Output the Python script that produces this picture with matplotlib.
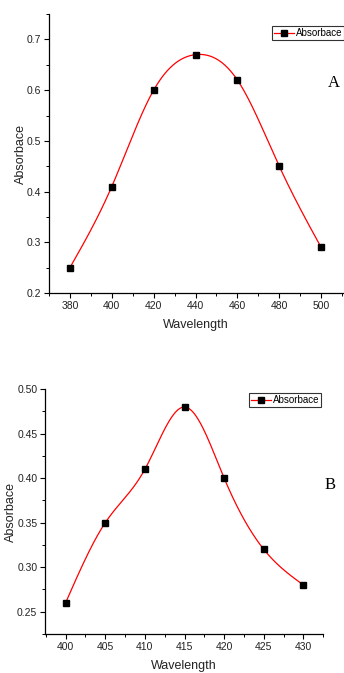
import numpy as np
import matplotlib.pyplot as plt
from matplotlib.ticker import MultipleLocator

# panel A data
wl_a = [380, 400, 420, 440, 460, 480, 500]
abs_a = [0.25, 0.41, 0.60, 0.67, 0.62, 0.45, 0.29]

# panel B data
wl_b = [400, 405, 410, 415, 420, 425, 430]
abs_b = [0.26, 0.35, 0.41, 0.48, 0.40, 0.32, 0.28]


def natural_spline(x, y, n=300):
    # natural cubic spline through the points, just for the smooth line
    x = np.asarray(x, float)
    y = np.asarray(y, float)
    k = len(x)
    h = np.diff(x)
    A = np.zeros((k, k))
    r = np.zeros(k)
    A[0, 0] = A[-1, -1] = 1
    for i in range(1, k - 1):
        A[i, i - 1] = h[i - 1]
        A[i, i] = 2 * (h[i - 1] + h[i])
        A[i, i + 1] = h[i]
        r[i] = 3 * ((y[i + 1] - y[i]) / h[i] - (y[i] - y[i - 1]) / h[i - 1])
    c = np.linalg.solve(A, r)
    xs = np.linspace(x[0], x[-1], n)
    idx = np.clip(np.searchsorted(x, xs) - 1, 0, k - 2)
    dx = xs - x[idx]
    b = (y[1:] - y[:-1]) / h - h * (2 * c[:-1] + c[1:]) / 3
    d = (c[1:] - c[:-1]) / (3 * h)
    ys = y[idx] + b[idx] * dx + c[idx] * dx ** 2 + d[idx] * dx ** 3
    return xs, ys


plt.rcParams['font.family'] = ['Liberation Sans', 'DejaVu Sans']

fig = plt.figure(figsize=(3.44, 6.73), dpi=100)
ax_a = fig.add_axes([0.1424, 0.5646, 0.855, 0.4145])
ax_b = fig.add_axes([0.1308, 0.058, 0.809, 0.3637])


def draw(ax, wl, ab, xlim, ylim, xmaj, xmin, ymaj, ymin, yfmt, letter, letter_pos, leg_anchor):
    xs, ys = natural_spline(wl, ab)
    ax.plot(xs, ys, color='red', lw=0.9, zorder=2)
    ax.plot(wl, ab, ls='none', marker='s', ms=4.5, color='black', zorder=3)
    # legend proxy
    ax.plot([], [], color='red', lw=0.9, marker='s', ms=4.5, mfc='black', mec='black', label='Absorbace')
    ax.set_xlim(*xlim)
    ax.set_ylim(*ylim)
    ax.xaxis.set_major_locator(MultipleLocator(xmaj))
    ax.xaxis.set_minor_locator(MultipleLocator(xmin))
    ax.yaxis.set_major_locator(MultipleLocator(ymaj))
    ax.yaxis.set_minor_locator(MultipleLocator(ymin))
    ax.yaxis.set_major_formatter(yfmt)
    for s in ['top', 'right']:
        ax.spines[s].set_visible(False)
    for s in ['left', 'bottom']:
        ax.spines[s].set_linewidth(0.9)
    ax.tick_params(which='major', direction='out', length=3.5, width=0.8, labelsize=7.5,
                   pad=2, labelcolor='#222222')
    ax.tick_params(which='minor', direction='out', length=2, width=0.7)
    ax.set_xlabel('Wavelength', fontsize=9, labelpad=6, color='#222222')
    ax.set_ylabel('Absorbace', fontsize=9, labelpad=0, color='#222222')
    ax.text(letter_pos[0], letter_pos[1], letter, transform=fig.transFigure,
            family='Liberation Serif', fontsize=12, ha='center', va='center')
    leg = ax.legend(loc='upper right', bbox_to_anchor=leg_anchor, bbox_transform=fig.transFigure,
                    fontsize=7, frameon=True, fancybox=False, handlelength=2.0,
                    borderpad=0.2, handletextpad=0.2, borderaxespad=0)
    leg.get_frame().set_edgecolor('black')
    leg.get_frame().set_linewidth(0.8)


draw(ax_a, wl_a, abs_a, (370, 510.5), (0.2, 0.75), 20, 10, 0.1, 0.05, '{x:.1f}',
     'A', (334 / 344, 1 - 83 / 673), (344 / 344, 1 - 26 / 673))
draw(ax_b, wl_b, abs_b, (397.4, 432.5), (0.225, 0.50), 5, 2.5, 0.05, 0.025, '{x:.2f}',
     'B', (330 / 344, 1 - 485 / 673), (321 / 344, 1 - 393 / 673))

fig.savefig('out.png', dpi=100)
